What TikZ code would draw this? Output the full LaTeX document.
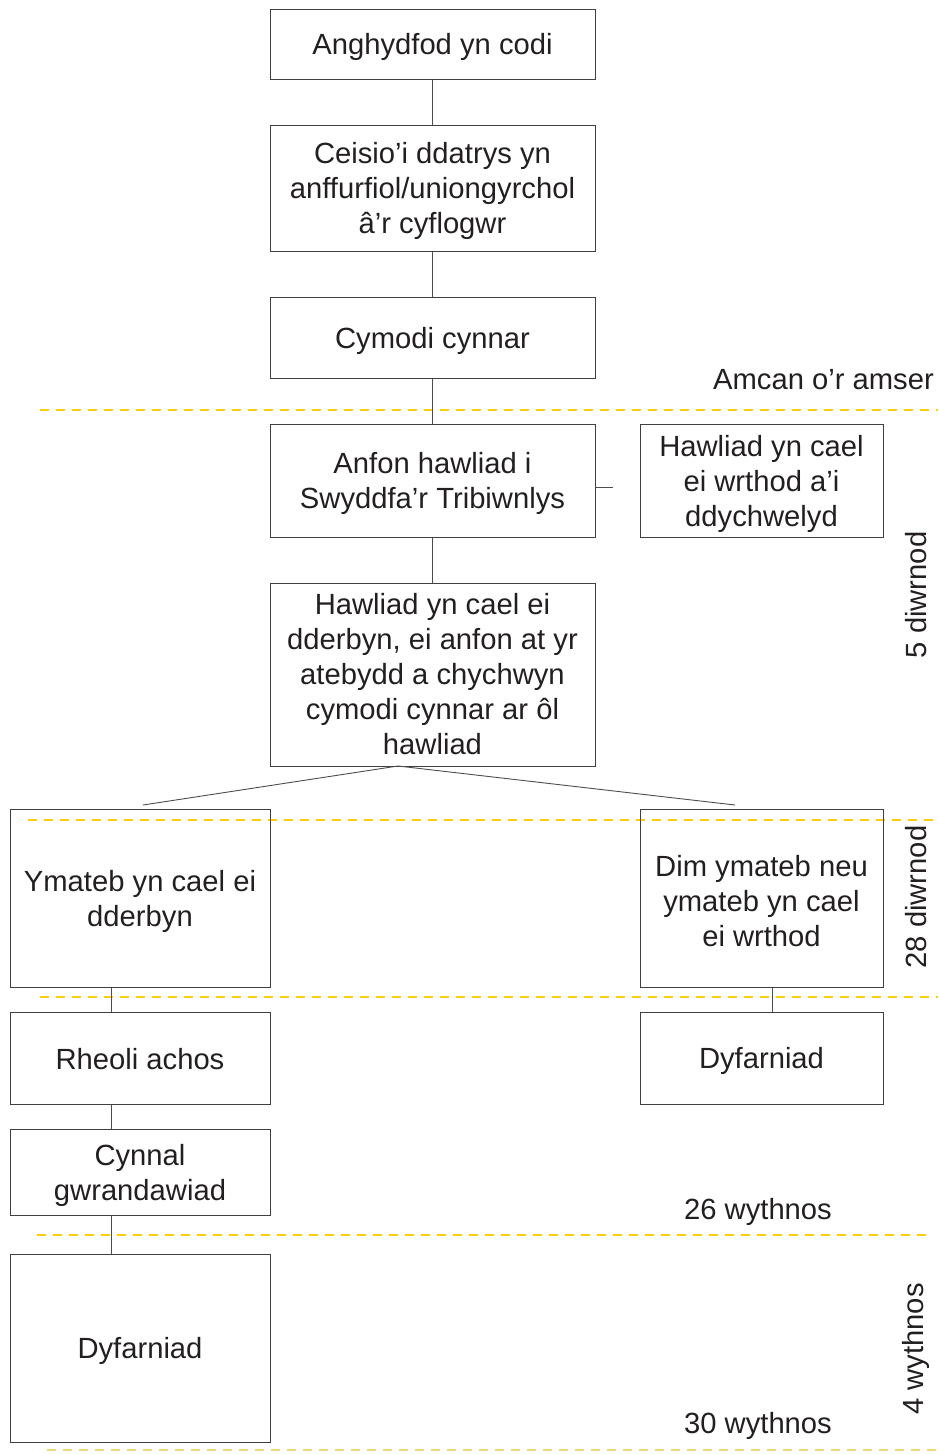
\documentclass[tikz,border=0pt]{standalone}
\usepackage{fontspec}
\setmainfont{Liberation Sans}
\usepackage{tikz}
\usepackage{xcolor}
\definecolor{amlinell}{RGB}{255,205,0}
\definecolor{amlinellgwan}{RGB}{240,215,110}
\definecolor{testun}{RGB}{35,31,32}

\begin{document}
\begin{tikzpicture}[x=1pt,y=-1pt,
  blwch/.style={draw=black!75, line width=1pt, inner sep=0pt},
  testunblwch/.style={align=center, text=testun, inner sep=0pt,
    font=\fontsize{29.2}{35}\selectfont, yshift=-3pt},
  cyswllt/.style={draw=black!70, line width=0.9pt},
  amser/.style={amlinell, dashed, dash pattern=on 9pt off 7pt, line width=1.8pt},
  labelamser/.style={text=testun, font=\fontsize{29.2}{35}\selectfont, inner sep=0pt}]
\useasboundingbox (0,0) rectangle (938,1454);

% llinellau amser
\draw [amser] (40,410) -- (938,410);
\draw [amser] (28,820) -- (938,820);
\draw [amser] (40,997) -- (938,997);
\draw [amser] (37,1235) -- (930,1235);
\draw [amser, amlinellgwan, line width=1.4pt] (47,1450) -- (938,1450);

% blychau
\node [blwch, minimum width=325, minimum height=70,
  label={[testunblwch]center:Anghydfod yn codi}] (codi) at (432.5,44) {};
\node [blwch, minimum width=325, minimum height=126,
  label={[testunblwch]center:{Ceisio'i ddatrys yn\\anffurfiol/uniongyrchol\\â'r cyflogwr}}] (ceisio) at (432.5,188) {};
\node [blwch, minimum width=325, minimum height=81,
  label={[testunblwch]center:Cymodi cynnar}] (cymodi) at (432.5,337.5) {};
\node [blwch, minimum width=325, minimum height=113,
  label={[testunblwch]center:{Anfon hawliad i\\Swyddfa'r Tribiwnlys}}] (anfon) at (432.5,480.5) {};
\node [blwch, minimum width=243, minimum height=113,
  label={[testunblwch]center:{Hawliad yn cael\\ei wrthod a'i\\ddychwelyd}}] (gwrthod) at (761.5,480.5) {};
\node [blwch, minimum width=325, minimum height=183,
  label={[testunblwch, yshift=3pt]center:{Hawliad yn cael ei\\dderbyn, ei anfon at yr\\atebydd a chychwyn\\cymodi cynnar ar ôl\\hawliad}}] (derbyn) at (432.5,674.5) {};
\node [blwch, minimum width=260, minimum height=178,
  label={[testunblwch]center:{Ymateb yn cael ei\\dderbyn}}] (ymateb) at (140,898) {};
\node [blwch, minimum width=243, minimum height=178,
  label={[testunblwch]center:{Dim ymateb neu\\ymateb yn cael\\ei wrthod}}] (dimymateb) at (761.5,898) {};
\node [blwch, minimum width=260, minimum height=92,
  label={[testunblwch, yshift=2pt]center:Rheoli achos}] (rheoli) at (140,1058) {};
\node [blwch, minimum width=243, minimum height=92,
  label={[testunblwch]center:Dyfarniad}] (dyfarniadA) at (761.5,1058) {};
\node [blwch, minimum width=260, minimum height=86,
  label={[testunblwch]center:{Cynnal\\gwrandawiad}}] (cynnal) at (140,1172) {};
\node [blwch, minimum width=260, minimum height=188,
  label={[testunblwch]center:Dyfarniad}] (dyfarniadB) at (140,1348) {};

% cysylltiadau
\draw [cyswllt] (codi) -- (ceisio);
\draw [cyswllt] (ceisio) -- (cymodi);
\draw [cyswllt] (cymodi) -- (anfon);
\draw [cyswllt] (anfon) -- (derbyn);
\coordinate (bonyn) at (613,487);
\draw [cyswllt] (anfon.east |- bonyn) -- (bonyn);
\coordinate (brig) at (398,766);
\coordinate (chwith) at (143,805);
\coordinate (dde) at (735,805);
\draw [cyswllt] (chwith) -- (brig) -- (dde);
\draw [cyswllt] (ymateb.south -| 111,0) -- (rheoli.north -| 111,0);
\draw [cyswllt] (dimymateb.south -| 772,0) -- (dyfarniadA.north -| 772,0);
\draw [cyswllt] (rheoli.south -| 111,0) -- (cynnal.north -| 111,0);
\draw [cyswllt] (cynnal.south -| 111,0) -- (dyfarniadB.north -| 111,0);

% labeli amser
\node [labelamser, anchor=east] (amcan) at (934,380) {Amcan o'r amser};
\node [labelamser, rotate=90] (pump) at (916,595) {5 diwrnod};
\node [labelamser, rotate=90] (wyth) at (916,897) {28 diwrnod};
\node [labelamser] (chwech) at (758,1212) {26 wythnos};
\node [labelamser, rotate=90] (pedair) at (916,1349) {4 wythnos};
\node [labelamser] (tri) at (758,1426) {30 wythnos};
\end{tikzpicture}
\end{document}
